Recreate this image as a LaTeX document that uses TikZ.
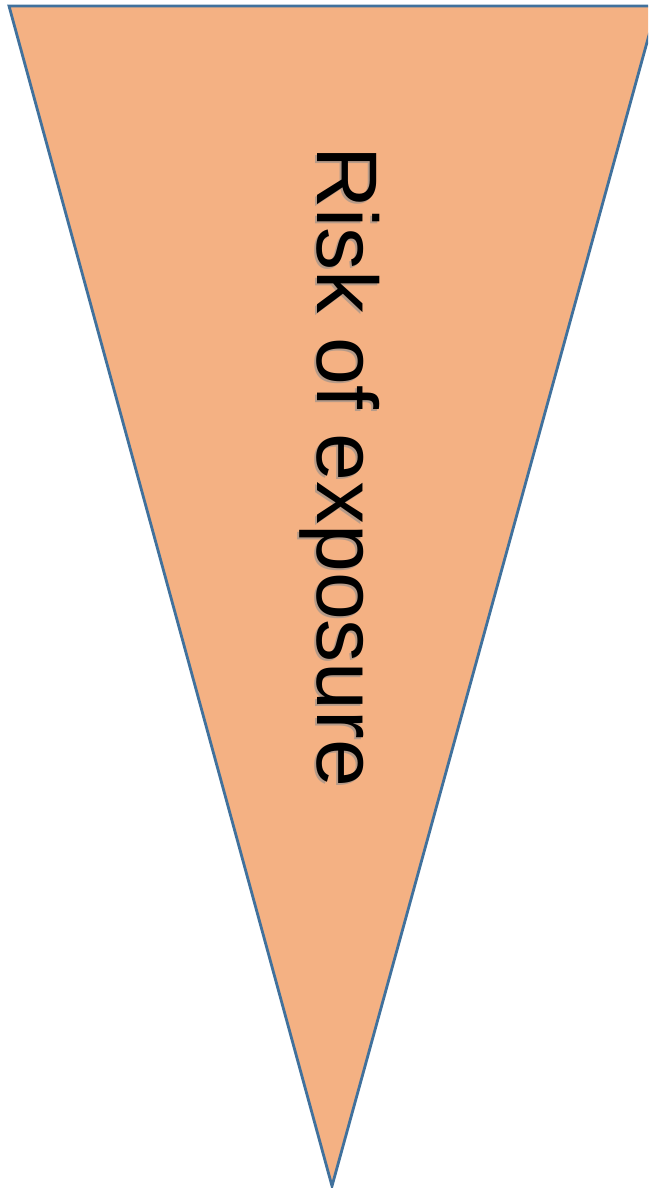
\documentclass[tikz,border=0pt]{standalone}
\usepackage{fontspec}
\setmainfont{Liberation Sans}
\usepackage{tikz}
\usetikzlibrary{positioning,calc}
\definecolor{wedgefill}{HTML}{F4B183}
\definecolor{wedgeline}{HTML}{41719C}

\begin{document}
\begin{tikzpicture}[
  x=1pt, y=1pt,
  wedge/.style={fill=wedgefill, draw=wedgeline, line width=2.8pt, line join=miter},
  label/.style={font=\fontsize{86}{100}\selectfont, rotate=-90, anchor=base, inner sep=0pt}
]
\useasboundingbox (0,0) rectangle (648,1188);
\clip (0,0) rectangle (648,1188);
\coordinate (TL) at (9,1182);
\coordinate (TR) at (657,1182);
\coordinate (TIP) at (332,2);
\draw[wedge] (TL) -- (TR) -- (TIP) -- cycle;

% shadow under the text
\node[label, text=black!45, opacity=0.6] (RISKSH) at (315,719) {Risk of exposure};
\node[label] (RISK) at (317,721) {Risk of exposure};
\end{tikzpicture}
\end{document}
